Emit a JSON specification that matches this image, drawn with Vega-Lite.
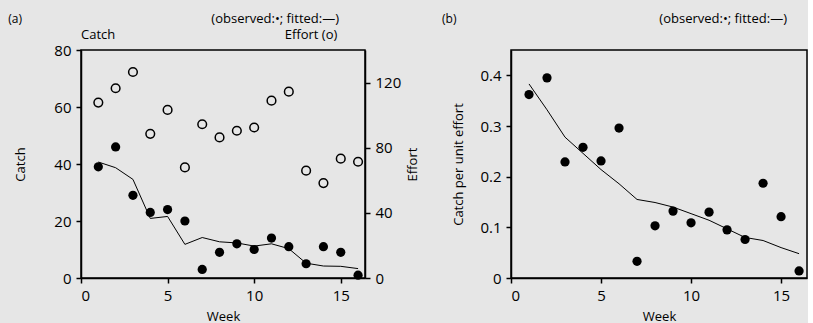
{
  "$schema": "https://vega.github.io/schema/vega-lite/v6.json",
  "background": "#e6e6e6",
  "padding": {"left": 7, "top": 11, "right": 0, "bottom": 0},
  "bounds": "flush",
  "spacing": 146,
  "config": {
    "font": "Open Sans",
    "view": {"stroke": "black", "strokeWidth": 1.5, "fill": null},
    "axis": {
      "domainColor": "black", "domainWidth": 1.5, "tickColor": "black", "tickWidth": 1.5, "tickSize": 5,
      "labelFont": "Open Sans", "labelFontSize": 15, "labelColor": "black", "labelPadding": 5,
      "titleFont": "Open Sans", "titleFontSize": 13, "titleFontWeight": "normal", "titleColor": "black",
      "grid": false
    },
    "text": {"font": "Open Sans", "color": "black"}
  },
  "datasets": {
    "obs": [
      {"week": 1, "catch": 39, "fitted": 40.7, "effort": 107.7, "cpue": 0.362, "cpueFit": 0.383},
      {"week": 2, "catch": 46, "fitted": 38.7, "effort": 116.5, "cpue": 0.395, "cpueFit": 0.332},
      {"week": 3, "catch": 29, "fitted": 34.6, "effort": 126.5, "cpue": 0.229, "cpueFit": 0.278},
      {"week": 4, "catch": 23, "fitted": 20.9, "effort": 88.5, "cpue": 0.258, "cpueFit": 0.246},
      {"week": 5, "catch": 24, "fitted": 21.6, "effort": 103.2, "cpue": 0.231, "cpueFit": 0.214},
      {"week": 6, "catch": 20, "fitted": 11.8, "effort": 67.9, "cpue": 0.296, "cpueFit": 0.186},
      {"week": 7, "catch": 3, "fitted": 14.2, "effort": 94.4, "cpue": 0.033, "cpueFit": 0.155},
      {"week": 8, "catch": 9, "fitted": 12.7, "effort": 86.3, "cpue": 0.103, "cpueFit": 0.149},
      {"week": 9, "catch": 12, "fitted": 12.3, "effort": 90.4, "cpue": 0.132, "cpueFit": 0.14},
      {"week": 10, "catch": 10, "fitted": 11.2, "effort": 92.4, "cpue": 0.109, "cpueFit": 0.127},
      {"week": 11, "catch": 14, "fitted": 12.0, "effort": 108.9, "cpue": 0.13, "cpueFit": 0.114},
      {"week": 12, "catch": 11, "fitted": 10.3, "effort": 114.4, "cpue": 0.095, "cpueFit": 0.097},
      {"week": 13, "catch": 5, "fitted": 5.2, "effort": 65.9, "cpue": 0.076, "cpueFit": 0.08},
      {"week": 14, "catch": 11, "fitted": 4.2, "effort": 58.3, "cpue": 0.187, "cpueFit": 0.074},
      {"week": 15, "catch": 9, "fitted": 4.1, "effort": 73.3, "cpue": 0.121, "cpueFit": 0.06},
      {"week": 16, "catch": 1, "fitted": 3.3, "effort": 71.4, "cpue": 0.014, "cpueFit": 0.048}
    ],
    "panelTag": [{"label": "(a)"}],
    "legendNote": [{"label": "(observed:•; fitted:—)"}],
    "catchHead": [{"label": "Catch"}],
    "effortHead": [{"label": "Effort (o)"}],
    "panelTagB": [{"label": "(b)"}]
  },
  "data": {"name": "obs"},
  "hconcat": [
    {
      "width": 284, "height": 228,
      "layer": [
        {
          "layer": [
            {"mark": {"type": "line", "color": "black", "strokeWidth": 1},
             "encoding": {
               "x": {"field": "week", "type": "quantitative", "scale": {"domain": [0, 16.4], "nice": false},
                     "axis": {"values": [0, 5, 10, 15], "title": "Week", "titlePadding": 7}},
               "y": {"field": "fitted", "type": "quantitative", "scale": {"domain": [0, 80], "nice": false},
                  "axis": {"values": [0, 20, 40, 60, 80], "title": "Catch", "titlePadding": 26}}}},
            {"mark": {"type": "point", "filled": true, "color": "black", "size": 85, "opacity": 1},
             "encoding": {"x": {"field": "week", "type": "quantitative"}, "y": {"field": "catch", "type": "quantitative"}}},
            {"data": {"name": "panelTag"},
             "mark": {"type": "text", "align": "left", "baseline": "middle", "fontSize": 12},
             "encoding": {"x": {"datum": -4.2, "type": "quantitative"}, "y": {"datum": 90.9, "type": "quantitative"}, "text": {"field": "label"}}},
            {"data": {"name": "legendNote"},
             "mark": {"type": "text", "align": "right", "baseline": "middle", "fontSize": 13},
             "encoding": {"x": {"datum": 14.9, "type": "quantitative"}, "y": {"datum": 90.9, "type": "quantitative"}, "text": {"field": "label"}}},
            {"data": {"name": "catchHead"},
             "mark": {"type": "text", "align": "left", "baseline": "middle", "fontSize": 13},
             "encoding": {"x": {"datum": 0, "type": "quantitative"}, "y": {"datum": 85.3, "type": "quantitative"}, "text": {"field": "label"}}},
            {"data": {"name": "effortHead"},
             "mark": {"type": "text", "align": "right", "baseline": "middle", "fontSize": 13},
             "encoding": {"x": {"datum": 14.8, "type": "quantitative"}, "y": {"datum": 85.3, "type": "quantitative"}, "text": {"field": "label"}}}
          ]
        },
        {
          "mark": {"type": "point", "filled": false, "color": "black", "size": 75, "strokeWidth": 1.5, "opacity": 1},
          "encoding": {
            "x": {"field": "week", "type": "quantitative"},
            "y": {"field": "effort", "type": "quantitative", "scale": {"domain": [0, 140], "nice": false},
                  "axis": {"orient": "right", "values": [0, 40, 80, 120], "title": "Effort", "titleAngle": 270, "titleBaseline": "bottom", "titlePadding": 19}}
          }
        }
      ],
      "resolve": {"scale": {"y": "independent"}, "axis": {"y": "independent"}}
    },
    {
      "width": 296, "height": 228,
      "layer": [
        {"mark": {"type": "line", "color": "black", "strokeWidth": 1},
         "encoding": {
           "x": {"field": "week", "type": "quantitative", "scale": {"domain": [0, 16.44], "nice": false},
                 "axis": {"values": [0, 5, 10, 15], "title": "Week", "titlePadding": 7}},
           "y": {"field": "cpueFit", "type": "quantitative", "scale": {"domain": [0, 0.45], "nice": false},
              "axis": {"values": [0, 0.1, 0.2, 0.3, 0.4], "labelExpr": "datum.value == 0 ? '0' : format(datum.value, '.1f')", "title": "Catch per unit effort", "titlePadding": 14}}}},
        {"mark": {"type": "point", "filled": true, "color": "black", "size": 85, "opacity": 1},
         "encoding": {"x": {"field": "week", "type": "quantitative"}, "y": {"field": "cpue", "type": "quantitative"}}},
        {"data": {"name": "panelTagB"},
         "mark": {"type": "text", "align": "left", "baseline": "middle", "fontSize": 12},
         "encoding": {"x": {"datum": -3.83, "type": "quantitative"}, "y": {"datum": 0.512, "type": "quantitative"}, "text": {"field": "label"}}},
        {"data": {"name": "legendNote"},
         "mark": {"type": "text", "align": "right", "baseline": "middle", "fontSize": 13},
         "encoding": {"x": {"datum": 15.33, "type": "quantitative"}, "y": {"datum": 0.512, "type": "quantitative"}, "text": {"field": "label"}}}
      ]
    }
  ]
}
